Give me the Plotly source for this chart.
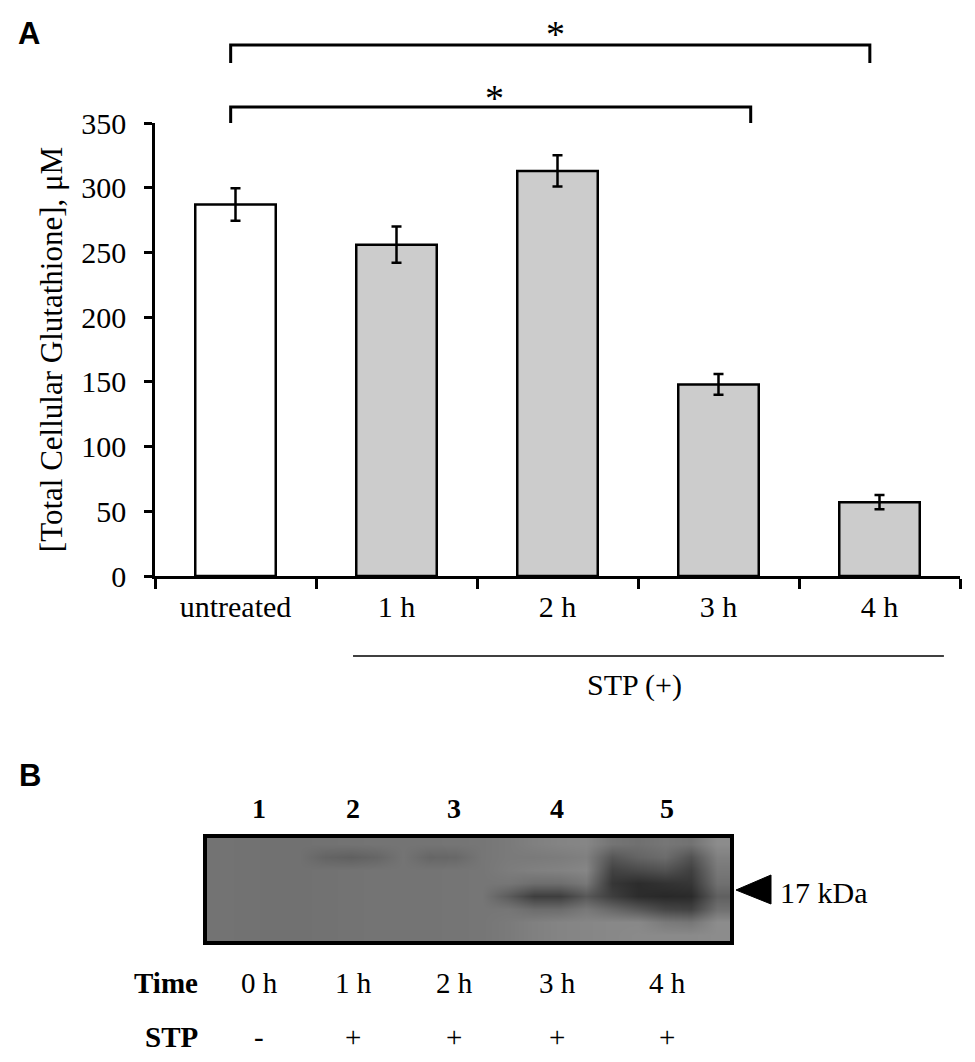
import plotly.graph_objects as go

# panel A: total cellular glutathione after STP treatment
groups = ["untreated", "1 h", "2 h", "3 h", "4 h"]
gsh_um = [287, 256, 313, 148, 57]
gsh_err = [12.5, 14, 12, 8, 5.5]
bar_fill = ["white", "#cccccc", "#cccccc", "#cccccc", "#cccccc"]

# significance brackets (start group pos, end group pos)
sig_from = [-0.03, -0.03]
sig_to = [3.94, 3.2]
sig_text = ["*", "*"]

# panel B: western blot lanes
lanes = ["1", "2", "3", "4", "5"]
lane_time = ["0 h", "1 h", "2 h", "3 h", "4 h"]
lane_stp = ["-", "+", "+", "+", "+"]

# blot densitometry (gray level 0-255), rows top -> bottom
blot_cols = [0.25 + 0.5 * i for i in range(20)]
blot_rows = [7.5, 6.5, 5.5, 4.5, 3.5, 2.5, 1.5, 0.5]
blot_gray = [
    [115, 114, 113, 113, 114, 115, 116, 116, 116, 117, 118, 122, 128, 132, 134, 116, 112, 118, 114, 140],
    [115, 114, 113, 113, 100, 96, 102, 116, 102, 104, 118, 122, 122, 124, 128, 86, 100, 108, 82, 128],
    [115, 114, 113, 113, 114, 115, 116, 116, 116, 117, 118, 124, 128, 130, 134, 66, 74, 82, 64, 120],
    [115, 114, 113, 113, 114, 115, 116, 116, 116, 117, 118, 118, 110, 110, 120, 54, 44, 50, 54, 112],
    [115, 114, 113, 113, 114, 115, 116, 116, 116, 117, 118, 92, 62, 62, 88, 62, 44, 40, 42, 96],
    [115, 114, 113, 113, 114, 115, 116, 116, 116, 117, 118, 118, 108, 108, 120, 104, 88, 70, 66, 112],
    [115, 114, 113, 113, 114, 115, 116, 116, 116, 117, 118, 122, 128, 132, 134, 136, 136, 122, 118, 140],
    [115, 114, 113, 113, 114, 115, 116, 116, 116, 117, 118, 122, 128, 132, 134, 136, 138, 138, 138, 140],
]
lane_pos = [1.0, 2.8, 4.73, 6.7, 8.8]

SERIF = "Liberation Serif"
SANS = "Liberation Sans"
W, H = 975, 1062
OFF = 8  # page body margin


def py(p):
    # pixel row -> paper y
    return 1 - (p - OFF) / H


def px(p):
    # pixel column -> paper x
    return (p - OFF) / W


def note(x, y, text, size, xref="paper", xanchor="center", family=SERIF):
    fig.add_annotation(x=x, y=y, xref=xref, yref="paper", text=text, showarrow=False,
                       xanchor=xanchor, yanchor="middle",
                       font=dict(family=family, size=size, color="black"))


fig = go.Figure()

fig.add_trace(go.Bar(
    x=groups, y=gsh_um, width=0.5,
    marker=dict(color=bar_fill, line=dict(color="black", width=2.5)),
    error_y=dict(type="data", array=gsh_err, color="black", thickness=2.5, width=5),
    hoverinfo="skip",
))

fig.add_trace(go.Heatmap(
    x=blot_cols, y=blot_rows, z=blot_gray, xaxis="x2", yaxis="y2",
    colorscale=[[0, "black"], [1, "white"]], zmin=0, zmax=255,
    zsmooth="best", showscale=False, hoverinfo="skip",
))

fig.update_layout(
    width=W, height=H,
    margin=dict(l=0, r=0, t=0, b=0, pad=0, autoexpand=False),
    paper_bgcolor="white", plot_bgcolor="white",
    showlegend=False,
    font=dict(family=SERIF, color="black", size=30),
    xaxis=dict(
        domain=[px(155), px(960)], type="category", range=[-0.5, 4.5],
        tickson="boundaries", ticks="outside", ticklen=10, tickwidth=2.5,
        tickcolor="black", showline=True, linecolor="black", linewidth=3,
        showgrid=False, tickfont=dict(family=SERIF, size=30), ticklabelstandoff=2,
        automargin=False,
    ),
    yaxis=dict(
        domain=[py(576), py(123)], range=[0, 350], dtick=50,
        ticks="outside", ticklen=8, tickwidth=2.5, tickcolor="black",
        showline=True, linecolor="black", linewidth=2.5, showgrid=False,
        zeroline=False, tickfont=dict(family=SERIF, size=30), ticklabelstandoff=12,
        automargin=False,
        title=dict(text="[Total Cellular Glutathione], μM",
                   font=dict(family=SERIF, size=31), standoff=10),
    ),
    xaxis2=dict(
        domain=[px(207), px(730)], range=[0, 10], anchor="y2",
        showticklabels=False, ticks="", showgrid=False, zeroline=False,
        showline=True, mirror=True, linecolor="black", linewidth=3.5,
        automargin=False,
    ),
    yaxis2=dict(
        domain=[py(941), py(838)], range=[0, 8], anchor="x2",
        showticklabels=False, ticks="", showgrid=False, zeroline=False,
        showline=True, mirror=True, linecolor="black", linewidth=3.5,
        automargin=False,
    ),
)

shapes = []
bracket_y = [(45, 63), (107, 123)]
star_x = [1.99, 1.61]
star_y = [34, 98]
for x0, x1, (ytop, yleg), sx, sy, st in zip(sig_from, sig_to, bracket_y, star_x, star_y, sig_text):
    shapes.append(dict(
        type="path", xref="x", yref="paper",
        path=f"M {x0},{py(yleg)} L {x0},{py(ytop)} L {x1},{py(ytop)} L {x1},{py(yleg)}",
        line=dict(color="black", width=3),
    ))
    note(sx, py(sy), st, 38, xref="x")

# STP (+) underline
shapes.append(dict(type="line", xref="x", yref="paper", x0=0.73, x1=4.4,
                   y0=py(656), y1=py(656), line=dict(color="black", width=1.5)))
note(2.48, py(685), "STP (+)", 30, xref="x")

# 17 kDa marker
shapes.append(dict(
    type="path", xref="paper", yref="paper",
    path=f"M {px(736)},{py(890)} L {px(771)},{py(875)} L {px(771)},{py(904)} Z",
    fillcolor="black", line=dict(color="black", width=1),
))
note(px(778), py(892), "17 kDa", 30, xanchor="left")

fig.update_layout(shapes=shapes)

# panel letters
note(px(29), py(33), "<b>A</b>", 31, family=SANS)
note(px(30), py(775), "<b>B</b>", 31, family=SANS)

# lane numbers, time and STP rows
for xp, ln, tm, sp in zip(lane_pos, lanes, lane_time, lane_stp):
    note(xp, py(808), f"<b>{ln}</b>", 28, xref="x2")
    note(xp, py(983), tm, 29, xref="x2")
    note(xp, py(1037), sp, 29, xref="x2")

note(px(200), py(983), "<b>Time</b>", 29, xanchor="right")
note(px(200), py(1037), "<b>STP</b>", 29, xanchor="right")

fig.write_html("out.html")
